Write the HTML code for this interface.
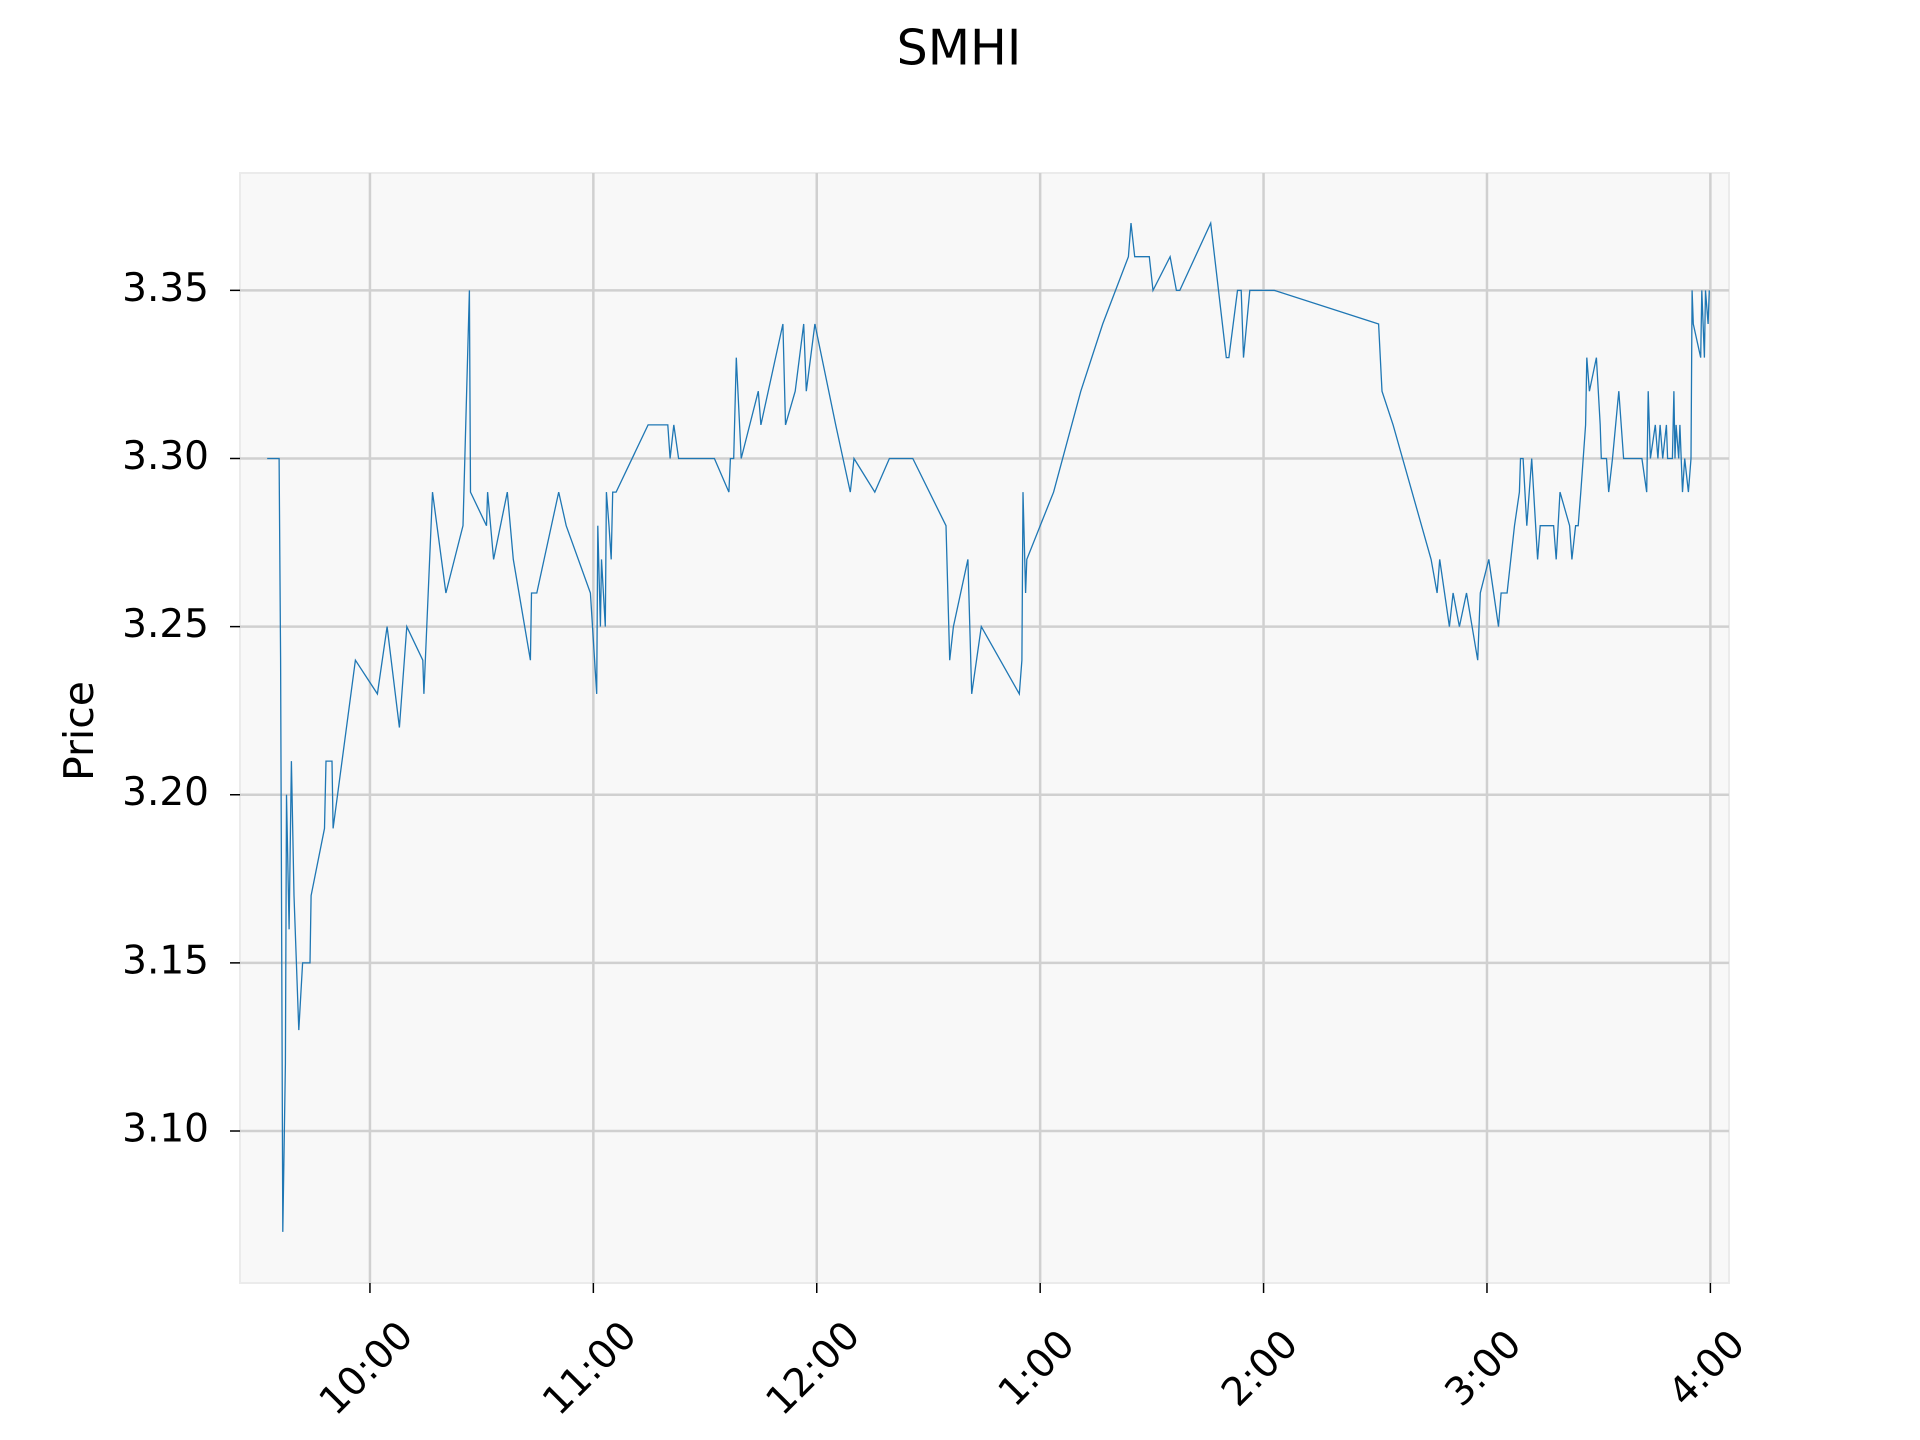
<!DOCTYPE html>
<html><head><meta charset="utf-8"><style>
html,body{margin:0;padding:0;background:#fff;}
svg{display:block;font-family:"DejaVu Sans","Liberation Sans",sans-serif;}
</style></head><body>
<svg id="chart" width="1920" height="1440" viewBox="0 0 1920 1440" xmlns="http://www.w3.org/2000/svg">
<rect width="1920" height="1440" fill="#fff"/>
<text x="959" y="51" font-size="49" text-anchor="middle" dominant-baseline="middle" fill="#000">SMHI</text>
<rect x="240" y="173" width="1489" height="1110" fill="#f8f8f8" stroke="#ebebeb" stroke-width="2"/>
<g id="grid"></g>
<g id="axes"></g>
<g id="series"></g>
<text x="82" y="731" font-size="41" text-anchor="middle" dominant-baseline="middle" transform="rotate(-90 82 731)" fill="#000">Price</text>
</svg>
<script>
const yTicks = [3.10, 3.15, 3.20, 3.25, 3.30, 3.35];
const xTickMinutes = [30, 90, 150, 210, 270, 330, 390];
const xTickLabels = ["10:00", "11:00", "12:00", "1:00", "2:00", "3:00", "4:00"];
// minutes after 9:30
const times = [2.4,5.6,6.0,6.6,7.3,7.6,8.3,8.9,9.6,10.9,11.9,13.9,14.2,17.8,18.2,19.8,20.1,26.1,32.0,34.6,37.9,39.9,44.2,44.5,46.8,50.4,55.0,56.7,57.0,61.3,61.6,63.2,66.9,68.5,73.1,73.4,74.8,80.7,82.7,89.2,90.9,91.2,91.9,92.2,93.2,93.5,94.2,94.8,95.2,96.1,104.7,110.0,110.6,111.6,112.9,122.5,126.4,126.8,127.7,128.4,129.7,134.3,135.0,140.9,141.6,144.2,146.5,147.2,149.5,155.1,159.0,160.0,165.6,169.5,175.8,184.7,185.7,186.7,190.6,191.6,194.2,204.4,205.1,205.4,206.1,206.4,213.6,220.9,226.8,233.7,234.4,235.4,239.3,240.3,244.9,246.6,247.5,255.8,260.0,260.7,263.0,264.0,264.6,266.3,272.9,300.9,301.8,304.8,315.0,316.6,317.3,319.9,320.9,322.6,324.5,327.5,328.2,330.5,333.1,333.8,335.4,337.4,338.7,339.0,339.7,340.7,342.0,343.6,344.3,347.9,348.6,349.6,352.2,352.8,353.8,354.5,355.2,356.5,356.8,357.5,359.4,360.4,360.7,362.1,362.7,363.7,365.4,366.7,371.6,372.9,373.3,373.9,375.2,375.9,376.5,377.2,378.2,378.5,379.8,380.2,380.5,380.8,381.5,381.8,382.5,383.1,384.1,384.8,385.1,385.4,387.4,387.7,388.4,388.7,389.4,389.7];
const prices = [3.30,3.30,3.24,3.07,3.12,3.20,3.16,3.21,3.17,3.13,3.15,3.15,3.17,3.19,3.21,3.21,3.19,3.24,3.23,3.25,3.22,3.25,3.24,3.23,3.29,3.26,3.28,3.35,3.29,3.28,3.29,3.27,3.29,3.27,3.24,3.26,3.26,3.29,3.28,3.26,3.23,3.28,3.25,3.27,3.25,3.29,3.28,3.27,3.29,3.29,3.31,3.31,3.30,3.31,3.30,3.30,3.29,3.30,3.30,3.33,3.30,3.32,3.31,3.34,3.31,3.32,3.34,3.32,3.34,3.31,3.29,3.30,3.29,3.30,3.30,3.28,3.24,3.25,3.27,3.23,3.25,3.23,3.24,3.29,3.26,3.27,3.29,3.32,3.34,3.36,3.37,3.36,3.36,3.35,3.36,3.35,3.35,3.37,3.33,3.33,3.35,3.35,3.33,3.35,3.35,3.34,3.32,3.31,3.27,3.26,3.27,3.25,3.26,3.25,3.26,3.24,3.26,3.27,3.25,3.26,3.26,3.28,3.29,3.30,3.30,3.28,3.30,3.27,3.28,3.28,3.27,3.29,3.28,3.27,3.28,3.28,3.29,3.31,3.33,3.32,3.33,3.31,3.30,3.30,3.29,3.30,3.32,3.30,3.30,3.29,3.32,3.30,3.31,3.30,3.31,3.30,3.31,3.30,3.30,3.32,3.30,3.31,3.30,3.31,3.29,3.30,3.29,3.30,3.35,3.34,3.33,3.35,3.33,3.35,3.34,3.35];

const NS = "http://www.w3.org/2000/svg";
const L = 240, R = 1729, T = 173, B = 1283;
const xMin = -4.9, xMax = 395.0, yMin = 3.0548, yMax = 3.3849;
function xScale(m) { return L + (m - xMin) / (xMax - xMin) * (R - L); }
function yScale(p) { return B - (p - yMin) / (yMax - yMin) * (B - T); }
function mk(tag, attrs, parent) {
  const e = document.createElementNS(NS, tag);
  for (const k in attrs) e.setAttribute(k, attrs[k]);
  parent.appendChild(e);
  return e;
}
const grid = document.getElementById('grid');
const axes = document.getElementById('axes');
const series = document.getElementById('series');

yTicks.forEach(v => {
  const y = yScale(v);
  const g = mk('line', {x1: L, x2: R, y1: y, y2: y, stroke: '#d0d0d0', 'stroke-width': 2.5}, grid);
  
  
  const t = mk('line', {x1: L - 10, x2: L, y1: y, y2: y, stroke: '#000', 'stroke-width': 1.5}, axes);
  
  
  const lb = mk('text', {x: 209, y: y, 'font-size': 39, 'text-anchor': 'end', 'dominant-baseline': 'middle', fill: '#000'}, axes);
  lb.textContent = v.toFixed(2);
  
  
});
xTickMinutes.forEach((m, i) => {
  const x = xScale(m);
  const g = mk('line', {x1: x, x2: x, y1: T, y2: B, stroke: '#d0d0d0', 'stroke-width': 2.5}, grid);
  
  
  const t = mk('line', {x1: x, x2: x, y1: B, y2: B + 10, stroke: '#000', 'stroke-width': 1.5}, axes);
  
  
  const cy = 1370;
  const lb = mk('text', {x: x - 2, y: cy, 'font-size': 39, 'text-anchor': 'middle', 'dominant-baseline': 'middle', fill: '#000', transform: `rotate(-45 ${x - 2} ${cy})`}, axes);
  lb.textContent = xTickLabels[i];
  
  
});
const pts = times.map((t, i) => xScale(t).toFixed(1) + ',' + yScale(prices[i]).toFixed(1)).join(' ');
const line = mk('polyline', {points: pts, fill: 'none', stroke: '#1f77b4', 'stroke-width': 1.3, 'stroke-linejoin': 'miter'}, series);


</script>
</body></html>
